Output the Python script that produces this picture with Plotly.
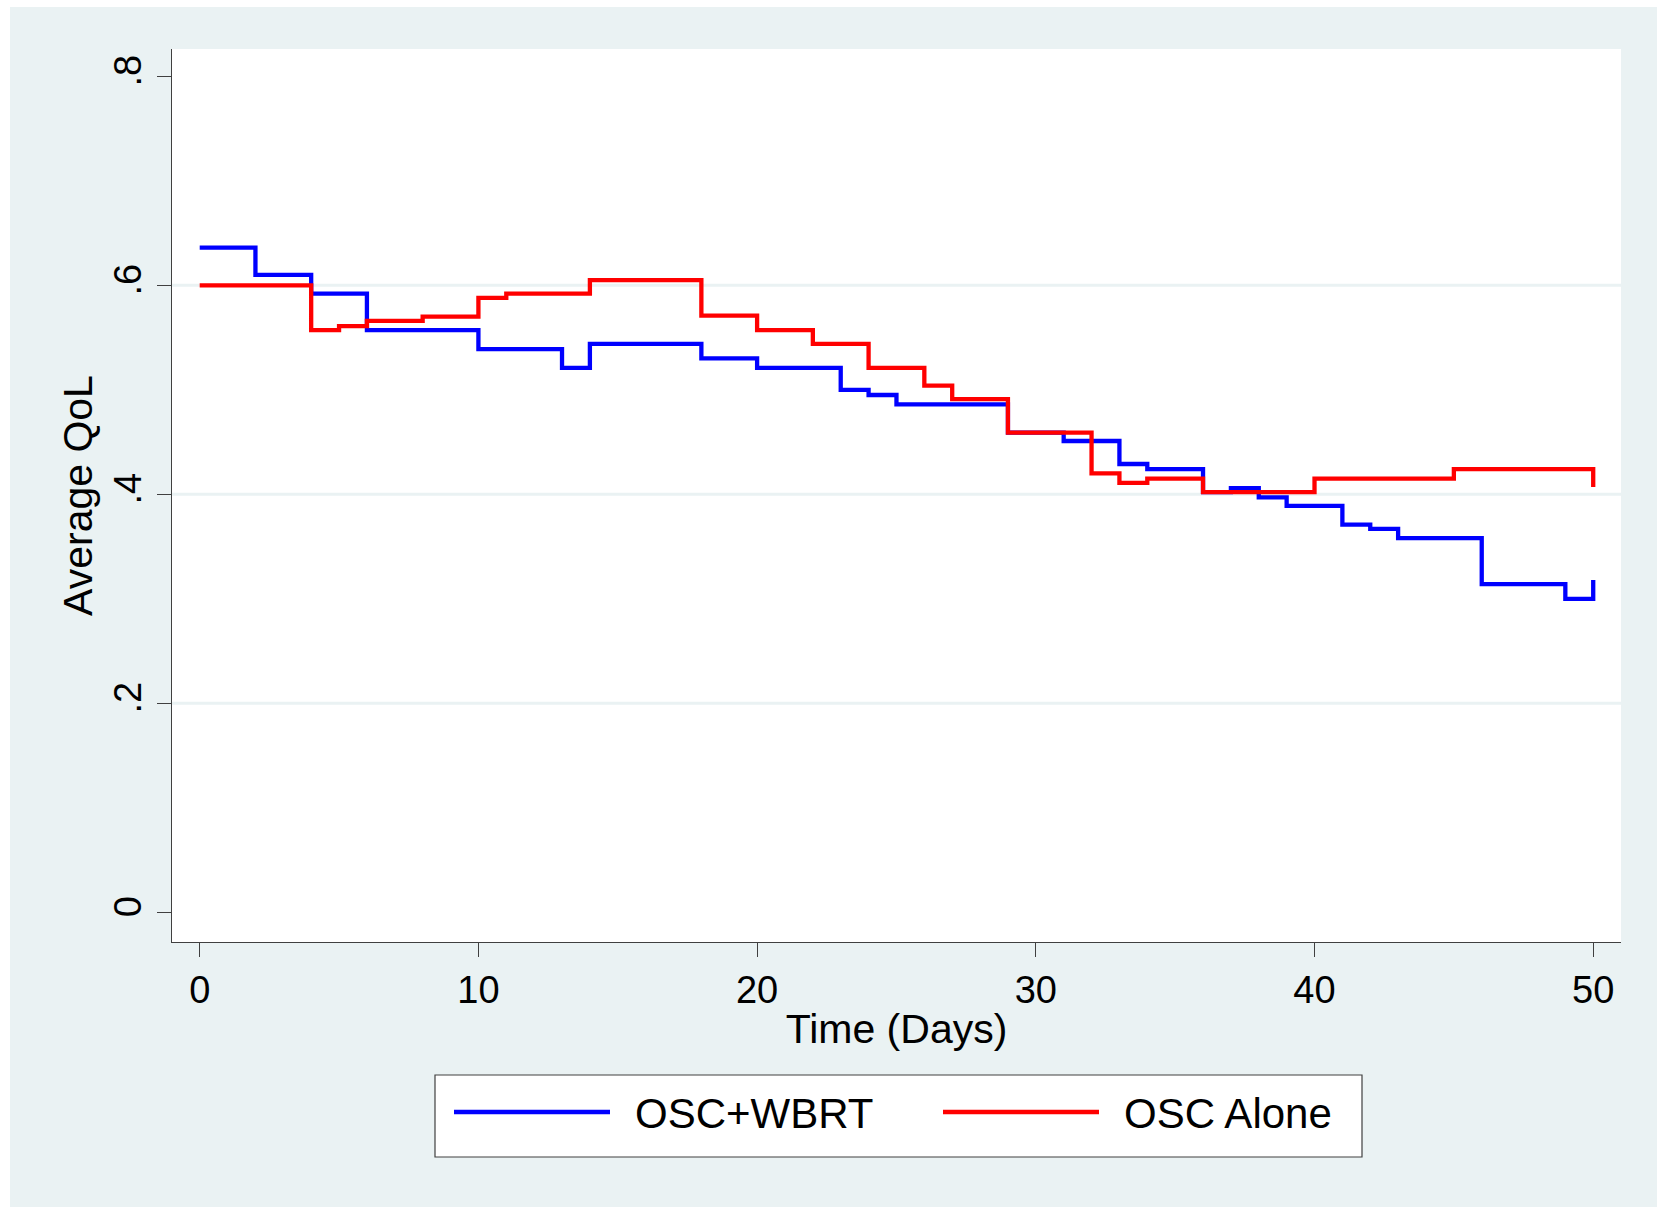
import plotly.graph_objects as go

# ---------------- data ----------------
days_wbrt = [0, 2, 4, 6, 7, 10, 13, 14, 18, 20, 23, 24, 25, 29, 31, 33, 34, 36, 37, 38, 39, 41, 42, 43, 46, 49, 50]
qol_wbrt = [0.636, 0.610, 0.592, 0.557, 0.557, 0.539, 0.521, 0.544, 0.530, 0.521, 0.500, 0.495, 0.486,
            0.459, 0.451, 0.429, 0.424, 0.402, 0.406, 0.397, 0.389, 0.371, 0.367, 0.358, 0.314, 0.300, 0.318]

days_alone = [0, 4, 5, 6, 7, 8, 9, 10, 11, 13, 14, 18, 20, 22, 24, 26, 27, 29, 32, 33, 34, 36, 40, 45, 50]
qol_alone = [0.600, 0.557, 0.561, 0.566, 0.566, 0.570, 0.570, 0.588, 0.592, 0.592, 0.605, 0.571, 0.557,
             0.544, 0.521, 0.504, 0.491, 0.459, 0.420, 0.411, 0.415, 0.402, 0.415, 0.424, 0.407]

series_names = ["OSC+WBRT", "OSC Alone"]
series_colors = ["#0000FF", "#FF0000"]

x_ticks = [0, 10, 20, 30, 40, 50]
y_ticks = [0, 0.2, 0.4, 0.6, 0.8]
y_tick_labels = ["0", ".2", ".4", ".6", ".8"]
grid_values = [0.2, 0.4, 0.6]

x_title = "Time (Days)"
y_title = "Average QoL"

# ---------------- layout geometry (pixels) ----------------
W, H = 1657, 1207
L, R, T, B = 172, 1621, 49, 942
PW, PH = R - L, B - T
BG = "#EAF2F3"
FONT = "Liberation Sans, Arial, Helvetica, sans-serif"


def xp(px):
    return (px - L) / PW


def yp(py):
    return (B - py) / PH


fig = go.Figure()
for d, q, name, col in [(days_wbrt, qol_wbrt, series_names[0], series_colors[0]),
                        (days_alone, qol_alone, series_names[1], series_colors[1])]:
    fig.add_trace(go.Scatter(x=d, y=q, mode="lines", name=name,
                             line=dict(color=col, width=4.3, shape="hv"),
                             showlegend=False))

shapes = []
# light grid lines (Stata style: only interior ticks)
for g in grid_values:
    shapes.append(dict(type="line", xref="paper", yref="y", x0=0, x1=1, y0=g, y1=g,
                       line=dict(color=BG, width=3), layer="below"))
# white strips on left/top edge of the image
shapes.append(dict(type="rect", xref="paper", yref="paper", x0=xp(0), x1=xp(10), y0=yp(H), y1=yp(0),
                   fillcolor="white", line=dict(width=0), layer="above"))
shapes.append(dict(type="rect", xref="paper", yref="paper", x0=xp(0), x1=xp(W), y0=yp(7), y1=yp(0),
                   fillcolor="white", line=dict(width=0), layer="above"))
# legend box
shapes.append(dict(type="rect", xref="paper", yref="paper", x0=xp(435), x1=xp(1362), y0=yp(1157), y1=yp(1075),
                   fillcolor="white", line=dict(color="#404040", width=1.2), layer="above"))
# legend samples
leg_items = [(454, 610, 633), (943, 1099, 1122)]
annotations = []
for (x0, x1, tx), name, col in zip(leg_items, series_names, series_colors):
    shapes.append(dict(type="line", xref="paper", yref="paper", x0=xp(x0), x1=xp(x1), y0=yp(1112), y1=yp(1112),
                       line=dict(color=col, width=4.3), layer="above"))
    annotations.append(dict(xref="paper", yref="paper", x=xp(tx), y=yp(1113), text=name, showarrow=False,
                            xanchor="left", yanchor="middle", font=dict(family=FONT, size=42, color="black")))

fig.update_layout(
    width=W, height=H,
    margin=dict(l=L, r=W - R, t=T, b=H - B, pad=0),
    paper_bgcolor=BG, plot_bgcolor="white",
    font=dict(family=FONT, color="black"),
    shapes=shapes, annotations=annotations,
    showlegend=False,
)
fig.update_xaxes(range=[-0.994, 50.997], tickvals=x_ticks, ticks="outside", ticklen=14, tickwidth=1.2,
                 tickcolor="#404040", showline=True, linecolor="#404040", linewidth=1.2, showgrid=False,
                 zeroline=False, tickfont=dict(size=38), ticklabelstandoff=0,
                 title=dict(text=x_title, font=dict(size=41), standoff=4))
fig.update_yaxes(range=[-0.0284, 0.8261], tickvals=y_ticks, ticktext=y_tick_labels, tickangle=-90,
                 ticks="outside", ticklen=14, tickwidth=1.2, tickcolor="#404040", showline=True,
                 linecolor="#404040", linewidth=1.2, showgrid=False, zeroline=False,
                 tickfont=dict(size=38), ticklabelstandoff=1,
                 title=dict(text=y_title, font=dict(size=41), standoff=1))

fig.write_html("out.html")
